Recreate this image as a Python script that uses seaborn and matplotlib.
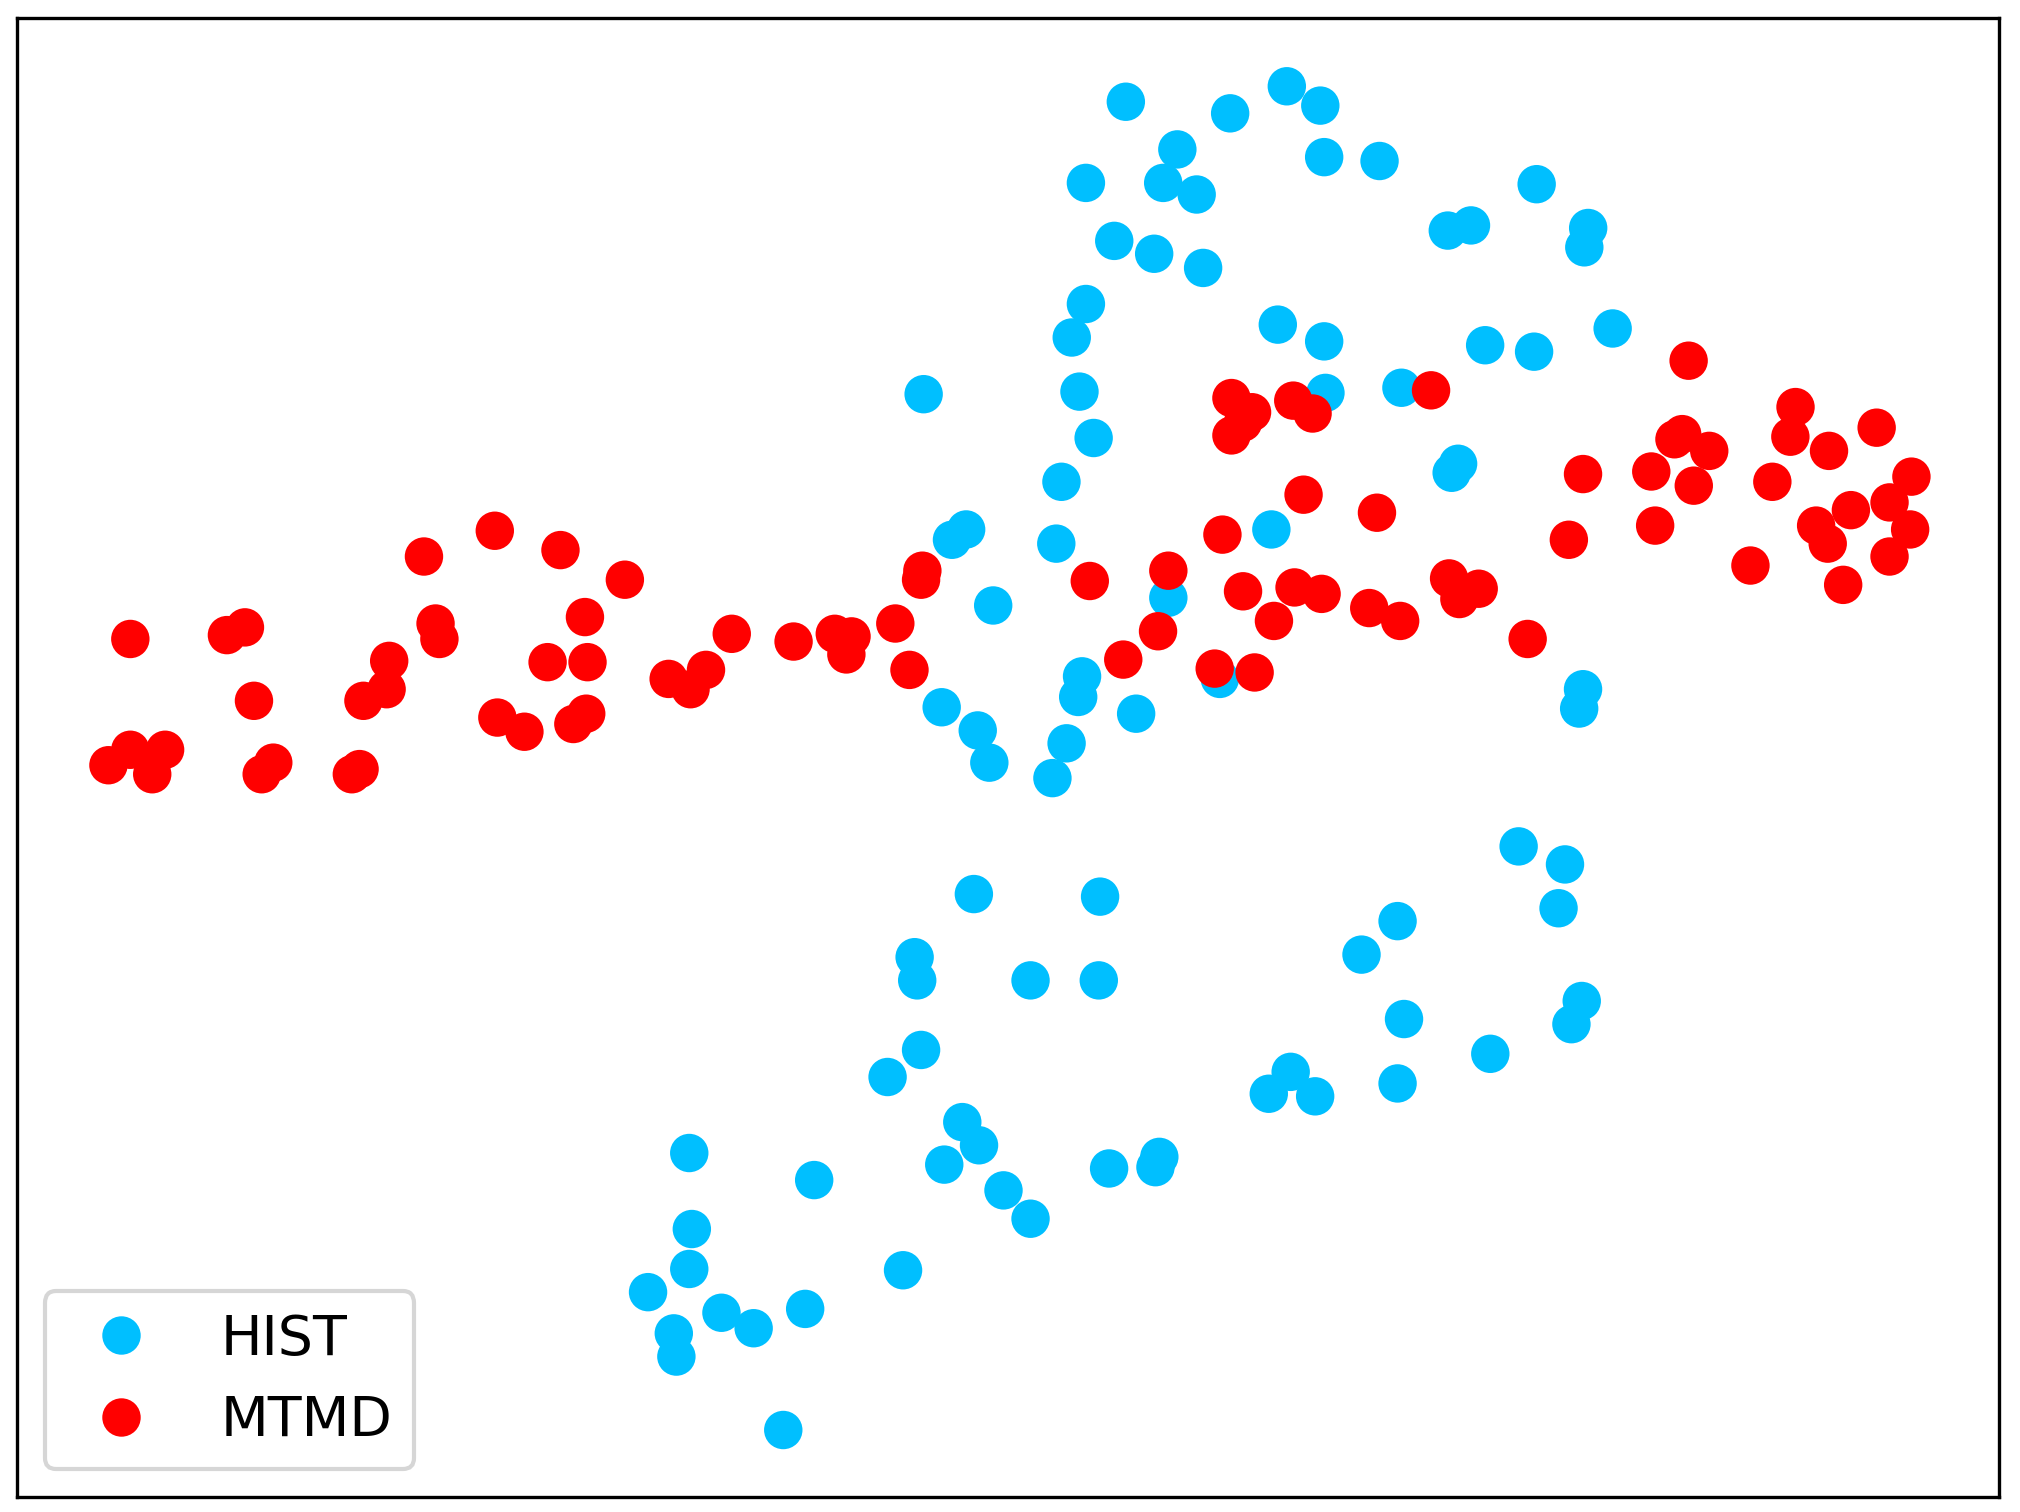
import pandas as pd
import numpy as np
import matplotlib.pyplot as plt
import seaborn as sns

# embedding coordinates (y grows downward, axis inverted below)
hist_x = [874, 999, 1025, 955, 914, 1028, 1071, 843, 903, 929, 1193, 1233, 1230, 1124, 1142,
          865, 896, 934, 843, 832, 992, 1028, 1153, 1191, 1252,
          838, 1029, 1088, 849, 717, 1132, 1127, 824, 750, 739, 820, 987, 907, 771, 840,
          837, 947, 882, 731, 759, 768, 828, 817, 1229, 1226,
          1179, 1215, 1210, 756, 854, 1085, 1057, 710, 712, 800, 853, 1090, 1228, 1220, 1157,
          715, 689, 1002, 985, 1021, 1085,
          535, 632, 747, 760, 733, 779, 800, 861, 900, 897, 537, 535, 503, 523, 525,
          560, 585, 625, 701, 608]
hist_y = [79, 67, 82, 88, 116, 122, 125, 142, 142, 151, 143, 177, 192, 179, 175,
          187, 197, 208, 236, 262, 252, 265, 268, 273, 255,
          304, 305, 301, 340, 306, 360, 367, 374, 411, 419, 422, 411, 464, 470, 525,
          541, 527, 554, 549, 567, 592, 577, 604, 535, 550,
          657, 671, 705, 694, 696, 715, 741, 743, 761, 761, 761, 791, 777, 795, 818,
          815, 836, 832, 849, 851, 841,
          895, 916, 871, 889, 904, 924, 946, 907, 898, 906, 954, 985, 1003, 1035, 1053,
          1019, 1031, 1016, 986, 1110]

mtmd_x = [101, 176, 190, 197, 84, 101, 128, 118, 203, 212, 273, 279, 282, 300, 302,
          329, 338, 341, 384, 435, 485, 454, 425, 456, 386, 407, 445, 455, 519, 536, 548, 568,
          616, 648, 661, 657, 695, 706, 716, 715, 846, 907, 899, 872, 943, 974, 949,
          1012, 1069, 965, 1005, 1026, 989, 1063, 1087, 1125, 1133, 1148, 1186,
          956, 972, 956, 965, 1004, 1019, 1111,
          1229, 1218, 1282, 1285, 1311, 1300, 1306, 1327, 1315, 1359, 1376, 1394, 1390,
          1420, 1457, 1410, 1419, 1437, 1431, 1467, 1484, 1483, 1467]
mtmd_y = [496, 493, 487, 544, 594, 582, 582, 601, 601, 592, 601, 597, 544, 535, 513,
          432, 484, 496, 412, 427, 450, 479, 514, 514, 557, 568, 562, 554, 527, 535, 520, 492,
          498, 492, 494, 508, 484, 520, 443, 450, 451, 443, 490, 512, 519, 522, 415,
          384, 398, 459, 456, 461, 482, 472, 482, 449, 465, 457, 496,
          309, 320, 338, 328, 311, 321, 303,
          368, 419, 366, 408, 280, 341, 337, 350, 377, 439, 374, 316, 339,
          350, 332, 408, 422, 396, 454, 390, 370, 411, 432]

groups = ['HIST', 'MTMD']
colors = {'HIST': '#00BFFF', 'MTMD': '#FF0000'}

df = pd.DataFrame({
    'x': hist_x + mtmd_x,
    'y': hist_y + mtmd_y,
    'group': ['HIST'] * len(hist_x) + ['MTMD'] * len(mtmd_x),
})

fig = plt.figure(figsize=(2020 / 300, 1512 / 300), dpi=300)
ax = fig.add_axes([17 / 2020, 1 - 1497 / 1512, 1982 / 2020, 1479 / 1512])

sns.scatterplot(data=df, x='x', y='y', hue='group', hue_order=groups, palette=colors,
                s=85, linewidth=0, ax=ax)

ax.set_xlim(13, 1552)
ax.set_ylim(1162, 14)
ax.set_xticks([])
ax.set_yticks([])
ax.set_xlabel('')
ax.set_ylabel('')
for sp in ax.spines.values():
    sp.set_color('black')
    sp.set_linewidth(0.8)

handles, labels = ax.get_legend_handles_labels()
ax.legend(handles, labels, loc='lower left', fontsize=13.3, labelspacing=0.5,
          borderpad=0.38, handletextpad=0.8, borderaxespad=0.5)

fig.savefig('out.png', dpi=300)
